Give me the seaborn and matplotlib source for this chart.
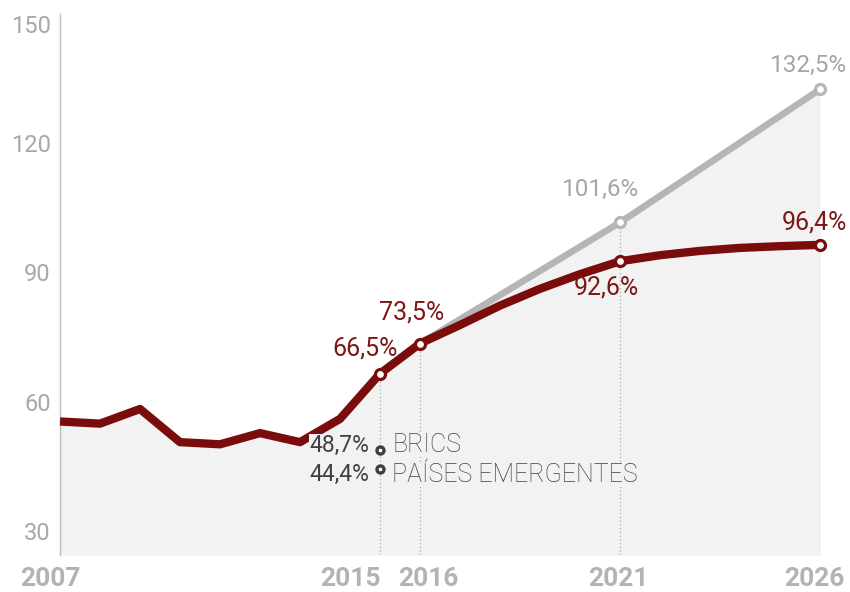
import matplotlib
matplotlib.use("Agg")
import matplotlib.pyplot as plt
import matplotlib.transforms as mtransforms
import pandas as pd
import seaborn as sns

# Government debt (% of GDP), history and projection
years = list(range(2007, 2027))
debt_pct = [55.4, 54.9, 58.3, 50.6, 50.1, 52.7, 50.6, 56.0, 66.5, 73.5,
            77.8, 82.3, 86.2, 89.6, 92.6, 94.0, 95.0, 95.7, 96.1, 96.4]

# Alternative scenario
alt_years = [2016, 2021, 2026]
alt_pct = [73.5, 101.6, 132.5]

# Highlighted points on the main series
marked_years = [2015, 2016, 2021, 2026]

# Comparison groups in 2015
group_year = 2015
group_names = ["BRICS", "PAÍSES EMERGENTES"]
group_pct = [48.7, 44.4]

y_ticks = [30, 60, 90, 120, 150]
x_ticks = [2007, 2015, 2016, 2021, 2026]

RED = "#7a0c0c"
RED_TXT = "#7d1818"
GRAY = "#b5b5b5"
GRAY_TXT = "#a6a6a6"
FILL = "#f2f2f2"
AXIS = "#bdbdbd"
TICK_TXT = "#a8a8a8"
DARK = "#404040"

sns.set_theme(style="white")
plt.rcParams["font.family"] = ["Roboto", "DejaVu Sans"]

main = pd.DataFrame({"year": years, "pct": debt_pct})
alt = pd.DataFrame({"year": alt_years, "pct": alt_pct})
marked = main[main["year"].isin(marked_years)]
alt_marked = alt[alt["year"].isin([2021, 2026])]
groups = pd.DataFrame({"year": [group_year] * len(group_pct), "pct": group_pct,
                       "name": group_names})

fig = plt.figure(figsize=(8.5, 5.92), dpi=100)
ax = fig.add_axes([60 / 850, 1 - 555 / 592, 760 / 850, 541 / 592])

y_low, y_high = 24.4, 150
ax.set_xlim(2007, 2026)
ax.set_ylim(y_low, y_high)

# Shaded area under the upper envelope of both series
ax.fill_between(main["year"], main["pct"], y_low, color=FILL, lw=0, zorder=1)
ax.fill_between(alt["year"], alt["pct"], y_low, color=FILL, lw=0, zorder=1)

# Dotted guides from the baseline up to the highlighted points
top_at = {}
for y_, v in zip(marked["year"], marked["pct"]):
    top_at[y_] = v
for y_, v in zip(alt_marked["year"], alt_marked["pct"]):
    top_at[y_] = max(top_at.get(y_, v), v)
ax.vlines(list(top_at.keys()), y_low, list(top_at.values()), colors="#a9a9a9",
          linestyles=(0, (1, 2)), linewidth=0.9, zorder=2)

sns.lineplot(data=alt, x="year", y="pct", ax=ax, color=GRAY, linewidth=4.8,
             solid_capstyle="butt", clip_on=False, zorder=3)
sns.lineplot(data=main, x="year", y="pct", ax=ax, color=RED, linewidth=6.0,
             solid_capstyle="butt", solid_joinstyle="round", clip_on=False,
             zorder=4)

sns.scatterplot(data=alt_marked, x="year", y="pct", ax=ax, s=52,
                color="white", edgecolor=GRAY, linewidth=2.3, clip_on=False,
                zorder=5)
sns.scatterplot(data=marked, x="year", y="pct", ax=ax, s=52,
                color="white", edgecolor=RED, linewidth=2.3, clip_on=False,
                zorder=6)


def pct_text(v):
    return f"{v:.1f}".replace(".", ",") + "%"


# Value labels (offsets in pixels from each point)
main_offsets = {2015: (-15, 25), 2016: (-8, 31), 2021: (-14, -26), 2026: (-6, 22)}
for y_, v in zip(marked["year"], marked["pct"]):
    dx, dy = main_offsets[y_]
    ax.annotate(pct_text(v), (y_, v), xytext=(dx, dy), textcoords="offset pixels",
                ha="center", va="center", fontsize=18, color=RED_TXT,
                annotation_clip=False, zorder=7)

alt_offsets = {2021: (-19, 33), 2026: (-12, 24)}
for y_, v in zip(alt_marked["year"], alt_marked["pct"]):
    dx, dy = alt_offsets[y_]
    ax.annotate(pct_text(v), (y_, v), xytext=(dx, dy), textcoords="offset pixels",
                ha="center", va="center", fontsize=17.5, color=GRAY_TXT,
                annotation_clip=False, zorder=7)

# Comparison groups: ring marker, value on the left, name on the right
sns.scatterplot(data=groups, x="year", y="pct", ax=ax, s=26, color="white",
                edgecolor=DARK, linewidth=2.4, zorder=8, legend=False)
line_nudge = [5, -6]
for (v, name), dy in zip(zip(groups["pct"], groups["name"]), line_nudge):
    ax.annotate(pct_text(v), (group_year, v), xytext=(-11, dy),
                textcoords="offset pixels", ha="right", va="center",
                fontsize=16.5, color=DARK, zorder=7,
                bbox=dict(facecolor=FILL, edgecolor="none", pad=0))
    ax.annotate(name, (group_year, v), xytext=(12, dy),
                textcoords="offset pixels", ha="left", va="center",
                fontsize=18, color=DARK, fontweight="light", zorder=7,
                bbox=dict(facecolor=FILL, edgecolor="none", pad=0))

# Axes styling
for side in ["top", "right", "bottom"]:
    ax.spines[side].set_visible(False)
ax.spines["left"].set_color(AXIS)
ax.spines["left"].set_linewidth(1.0)

ax.set_yticks(y_ticks)
ax.set_yticklabels([str(t) for t in y_ticks])
ax.tick_params(axis="y", direction="in", length=14, width=1, color=AXIS,
               pad=6.5, labelsize=17, labelcolor=TICK_TXT)
ax.set_xticks(x_ticks)
ax.set_xticklabels([str(t) for t in x_ticks])
ax.tick_params(axis="x", length=0, pad=9, labelsize=19, labelcolor="#b3b3b3")
for lab in ax.get_xticklabels():
    lab.set_fontweight("bold")

# Nudge crowded tick labels sideways
x_shift_px = {"2007": -10, "2015": -30, "2016": 8, "2021": -2, "2026": -6}
for lab in ax.get_xticklabels():
    dx = x_shift_px.get(lab.get_text(), 0)
    lab.set_transform(lab.get_transform() +
                      mtransforms.ScaledTranslation(dx / 100, 0, fig.dpi_scale_trans))
for lab in ax.get_yticklabels():
    if lab.get_text() == "150":
        lab.set_transform(lab.get_transform() +
                          mtransforms.ScaledTranslation(0, -10 / 100, fig.dpi_scale_trans))

ax.set_xlabel("")
ax.set_ylabel("")
if ax.get_legend() is not None:
    ax.get_legend().remove()

fig.savefig("out.png", dpi=100, facecolor="white")
